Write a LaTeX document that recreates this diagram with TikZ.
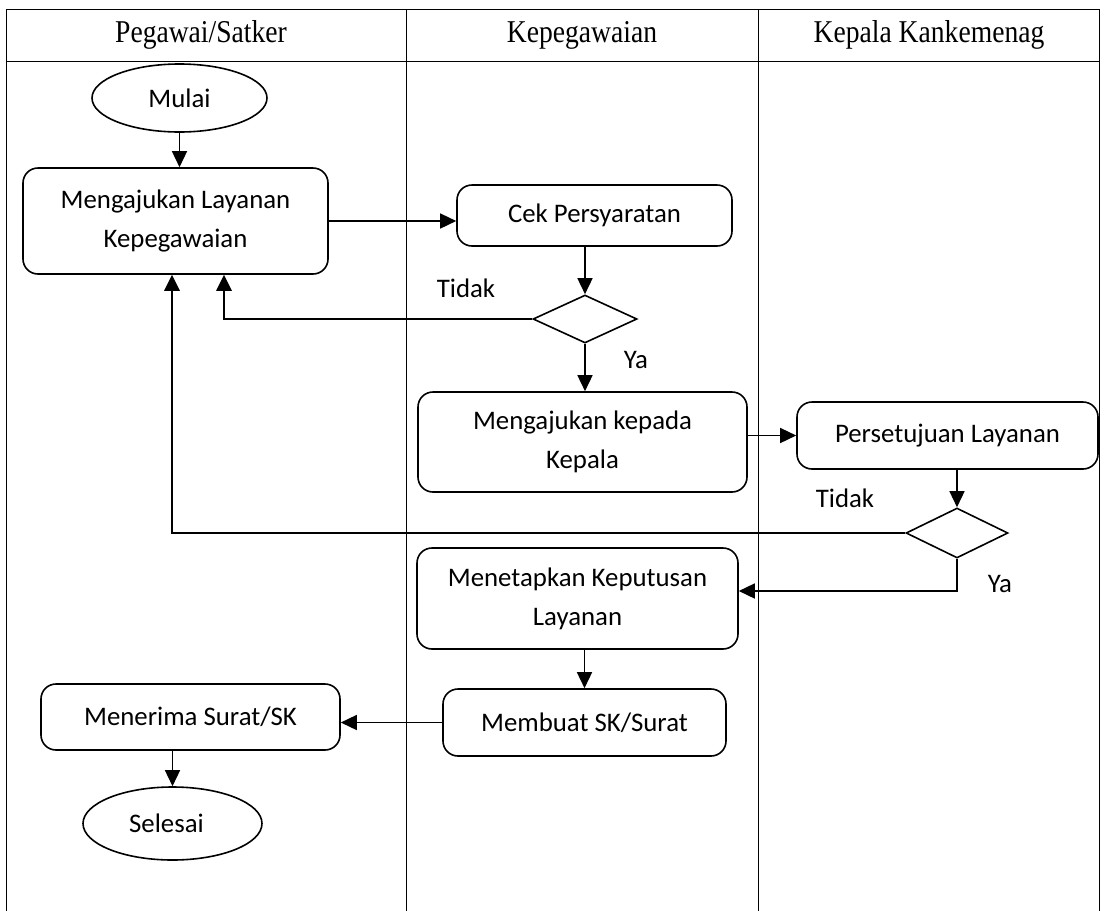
\documentclass[tikz,border=0pt]{standalone}
\usepackage{fontspec}
\setmainfont{Carlito}
\newfontfamily\headfont{Liberation Serif}
\usepackage{tikz}
\usetikzlibrary{arrows.meta,positioning,shapes,calc}

\begin{document}
\begin{tikzpicture}[
  x=0.5pt, y=-0.5pt,
  box/.style={rectangle, rounded corners=7.5pt, draw, line width=0.8pt, align=center, inner sep=0pt, font=\fontsize{13.4}{19.5}\selectfont},
  term/.style={ellipse, draw, line width=0.8pt, inner sep=0pt, font=\fontsize{13.4}{15}\selectfont},
  decision/.style={diamond, draw, line width=0.8pt, inner sep=0pt, aspect=2},
  lane/.style={font=\headfont\fontsize{13.8}{16}\selectfont},
  label/.style={font=\fontsize{13.4}{15}\selectfont},
  arrow/.style={-{Triangle[length=8pt,width=7.5pt]}, line width=0.75pt},
  back/.style={-{Triangle[length=8pt,width=7.5pt]}, line width=1.4pt}
]
\useasboundingbox (0,0) rectangle (1104,911);

% Swimlanes
\draw[line width=0.5pt] (6,911) -- (6,9) -- (1099,9) -- (1099,911);
\draw[line width=0.5pt] (6,61) -- (1099,61);
\draw[line width=0.5pt] (406,9) -- (406,911);
\draw[line width=0.5pt] (758,9) -- (758,911);
\node[lane, yscale=1.15] (lane1) at (201,35) {Pegawai/Satker};
\node[lane, yscale=1.15] (lane2) at (582,35) {Kepegawaian};
\node[lane, yscale=1.15] (lane3) at (929,35) {Kepala Kankemenag};

% Pegawai/Satker
\node[term, minimum width=87.5pt, minimum height=34pt] (mulai) at (179.5,98) {Mulai};
\node[box, minimum width=152.5pt, minimum height=53pt] (req) at (175.5,221) {Mengajukan Layanan\\Kepegawaian};
\node[box, minimum width=149.5pt, minimum height=33pt] (terima) at (190.5,717) {Menerima Surat/SK};
\node[term, minimum width=89.5pt, minimum height=36.5pt] (selesai) at (172.5,823.5) {\hspace*{-6pt}Selesai};

% Kepegawaian
\node[box, minimum width=137.5pt, minimum height=30.5pt] (cek) at (594.5,215.5) {Cek Persyaratan};
\node[decision, minimum width=52pt, minimum height=24pt] (cekok) at (585,319) {};
\node[box, minimum width=164.5pt, minimum height=50pt] (ajukan) at (582.5,442) {Mengajukan kepada\\Kepala};
\node[box, minimum width=160.5pt, minimum height=50.5pt] (tetap) at (577.5,598.5) {Menetapkan Keputusan\\Layanan};
\node[box, minimum width=141.5pt, minimum height=33.5pt] (buat) at (584.5,722.5) {Membuat SK/Surat};

% Kepala Kankemenag
\node[box, minimum width=150.5pt, minimum height=33.5pt] (setuju) at (947.5,435.5) {Persetujuan Layanan};
\node[decision, minimum width=51pt, minimum height=25pt] (setujuok) at (957,533) {};

% Labels
\node[label] (tidak1) at (466,288) {Tidak};
\node[label] (ya1) at (636,360) {Ya};
\node[label] (tidak2) at (845,498) {Tidak};
\node[label] (ya2) at (1000,584) {Ya};

% Arrows
\draw[arrow] (mulai.south) -- (mulai.south |- req.north);
\draw[arrow] (req.east) -- (req.east -| cek.west);
\draw[arrow] (cekok.north |- cek.south) -- (cekok.north);
\draw[back] (cekok.west) -| ([xshift=24.25pt]req.south);
\draw[arrow] (cekok.south) -- (cekok.south |- ajukan.north);
\draw[arrow] (setuju.west -| ajukan.east) -- (setuju.west);
\draw[arrow] (setujuok.north |- setuju.south) -- (setujuok.north);
\draw[back] (setujuok.west) -| ([xshift=-1.75pt]req.south);
\draw[arrow] (setujuok.south) |- ([yshift=3.75pt]tetap.east);
\draw[arrow] (buat.north |- tetap.south) -- (buat.north);
\draw[arrow] (buat.west) -- (buat.west -| terima.east);
\draw[arrow] (selesai.north |- terima.south) -- (selesai.north);

\end{tikzpicture}
\end{document}
